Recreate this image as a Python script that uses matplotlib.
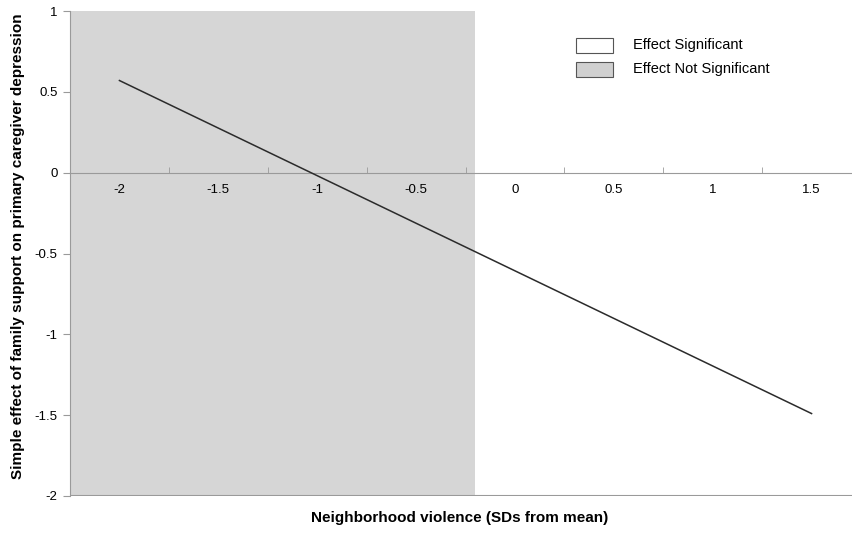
import numpy as np
import matplotlib
matplotlib.use("Agg")
import matplotlib.pyplot as plt
from matplotlib.patches import Rectangle

plt.rcParams['font.family'] = ['Liberation Sans', 'DejaVu Sans']

# categories on the x axis (SDs from mean)
x_cats = [-2, -1.5, -1, -0.5, 0, 0.5, 1, 1.5]
x_labels = ["-2", "-1.5", "-1", "-0.5", "0", "0.5", "1", "1.5"]
y_ticks = [1, 0.5, 0, -0.5, -1, -1.5, -2]
y_labels = ["1", "0.5", "0", "-0.5", "-1", "-1.5", "-2"]

# simple slope line endpoints
line_x = [-2, 1.5]
line_y = [0.57, -1.49]

# region of non-significance ends here
sig_threshold = -0.2

grey = "#9a9a9a"

fig = plt.figure(figsize=(8.53, 5.33), dpi=100)
ax = fig.add_axes([70/853, 1 - 496/533, 791/853, 485/533])
ax.set_xlim(-2.25, 1.75)
ax.set_ylim(-2, 1)

ax.axvspan(-2.25, sig_threshold, color="#d6d6d6", lw=0, zorder=0)
ax.plot(line_x, line_y, color="#2b2b2b", lw=1.1, zorder=3)

# y axis
ax.set_yticks(y_ticks)
ax.set_yticklabels(y_labels, fontsize=9.5)
ax.tick_params(axis="y", direction="out", length=5, color=grey, pad=4)

# x axis drawn at y = 0, ticks between categories
ax.spines["bottom"].set_position(("data", 0))
ax.spines["bottom"].set_color(grey)
ax.spines["left"].set_color(grey)
ax.spines["top"].set_visible(False)
ax.spines["right"].set_visible(False)
ax.set_xticks(x_cats)
ax.set_xticklabels(x_labels, fontsize=9.5)
mids = [(a + b) / 2 for a, b in zip(x_cats[:-1], x_cats[1:])]
ax.set_xticks(mids, minor=True)
ax.tick_params(axis="x", which="major", length=0, pad=8)
ax.tick_params(axis="x", which="minor", direction="in", length=4, color=grey)
ax.axhline(-2, color=grey, lw=1.5, zorder=2)

fig.text(460/853, 1 - 518/533, "Neighborhood violence (SDs from mean)",
         ha="center", va="center", fontsize=11, fontweight="bold")
fig.text(18/853, 1 - 246/533, "Simple effect of family support on primary caregiver depression",
         ha="center", va="center", rotation=90, fontsize=11, fontweight="bold")

# legend
for i, (lab, fc) in enumerate([("Effect Significant", "white"),
                               ("Effect Not Significant", "#d0d0d0")]):
    y0 = 38 + i * 24
    fig.patches.append(Rectangle((576/853, 1 - (y0 + 15)/533), 37/853, 15/533,
                                 transform=fig.transFigure, facecolor=fc,
                                 edgecolor="#555555", lw=0.8))
    fig.text(633/853, 1 - (y0 + 7.5)/533, lab, ha="left", va="center", fontsize=10.5)

fig.savefig("out.png", dpi=100)
